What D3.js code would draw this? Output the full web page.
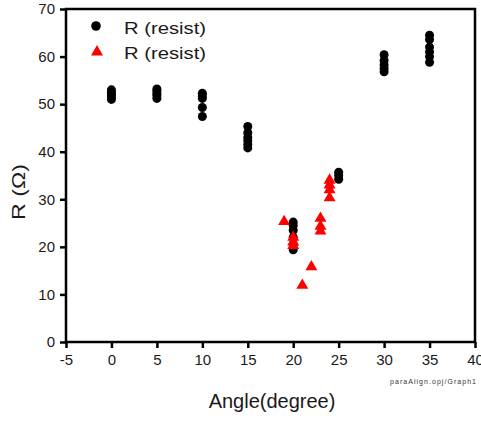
<!DOCTYPE html>
<html>
<head>
<meta charset="utf-8">
<script src="https://cdn.jsdelivr.net/npm/d3@7"></script>
<style>
  body { margin: 0; background: #fff; }
  svg text { font-family: "Liberation Sans", Arial, sans-serif; }
</style>
</head>
<body>
<svg id="chart" width="481" height="421"></svg>
<script>
// black circles: angle and measured R
const blackAngles = [0, 0, 0, 0, 0,
  5, 5, 5, 5, 5,
  10, 10, 10, 10, 10,
  15, 15, 15, 15, 15, 15,
  20, 20, 20, 20, 20, 20,
  25, 25, 25,
  30, 30, 30, 30, 30,
  35, 35, 35, 35, 35, 35];
const blackR = [51, 51.5, 52, 52.5, 53,
  51.2, 51.8, 52.3, 52.8, 53.2,
  47.4, 49.3, 51.2, 51.7, 52.3,
  40.8, 41.5, 42.3, 43, 44, 45.3,
  19.4, 20.5, 22, 23.5, 24.5, 25.2,
  34.2, 35, 35.7,
  56.8, 57.5, 58.3, 59.2, 60.4,
  58.8, 60, 61, 62, 63.6, 64.5];

// red triangles
const redAngles = [19, 20, 20, 20, 21, 22, 23, 23, 23, 24, 24, 24, 24];
const redR = [25.3, 20.3, 21, 22, 11.9, 15.8, 23.3, 24.3, 26, 30.3, 32, 33, 34];

const xTicks = [-5, 0, 5, 10, 15, 20, 25, 30, 35, 40];
const yTicks = [0, 10, 20, 30, 40, 50, 60, 70];
const legendLabels = ["R (resist)", "R (resist)"];

const svg = d3.select("#chart");
const pLeft = 66, pRight = 475, pTop = 9, pBottom = 342;
const textCol = "#1a1a1a";

const x = d3.scaleLinear().domain([-5, 40]).range([pLeft, pRight]);
const y = d3.scaleLinear().domain([0, 70]).range([pBottom, pTop]);

// frame
svg.append("rect")
  .attr("x", pLeft).attr("y", pTop)
  .attr("width", pRight - pLeft).attr("height", pBottom - pTop)
  .attr("fill", "none").attr("stroke", "#000").attr("stroke-width", 2.5);

// axes (plain hyphen for minus, like the original)
const fmt = d => String(d);
const xAxis = svg.append("g")
  .attr("transform", `translate(0,${pBottom})`)
  .call(d3.axisBottom(x).tickValues(xTicks).tickFormat(fmt).tickSize(6).tickPadding(6));
const yAxis = svg.append("g")
  .attr("transform", `translate(${pLeft},0)`)
  .call(d3.axisLeft(y).tickValues(yTicks).tickFormat(fmt).tickSize(6).tickPadding(5));

[xAxis, yAxis].forEach(g => {
  g.select(".domain").remove();
  g.selectAll(".tick line").attr("stroke", "#000").attr("stroke-width", 2.5);
  g.selectAll(".tick text").attr("fill", textCol).attr("font-size", 15)
    .style("font-family", "'Liberation Sans', Arial, sans-serif");
});

// black circles
svg.append("g").selectAll("circle")
  .data(blackAngles.map((a, i) => [a, blackR[i]]))
  .join("circle")
  .attr("cx", d => x(d[0]))
  .attr("cy", d => y(d[1]))
  .attr("r", 4.5)
  .attr("fill", "#000");

// red triangles
const tri = d3.symbol().type(d3.symbolTriangle).size(62);
svg.append("g").selectAll("path")
  .data(redAngles.map((a, i) => [a, redR[i]]))
  .join("path")
  .attr("d", tri)
  .attr("transform", d => `translate(${x(d[0])},${y(d[1])})`)
  .attr("fill", "#ff0000");

// legend
svg.append("circle").attr("cx", 96).attr("cy", 26).attr("r", 4.8).attr("fill", "#000");
svg.append("path").attr("d", tri).attr("transform", "translate(97,52)").attr("fill", "#ff0000");
svg.selectAll(".leg").data(legendLabels).join("text")
  .attr("class", "leg")
  .attr("x", 124)
  .attr("y", (d, i) => 34 + i * 25)
  .attr("font-size", 17)
  .attr("textLength", 82)
  .attr("lengthAdjust", "spacingAndGlyphs")
  .attr("fill", textCol)
  .text(d => d);

// axis titles
svg.append("text")
  .attr("transform", "translate(25,192) rotate(-90)")
  .attr("text-anchor", "middle")
  .attr("font-size", 18)
  .attr("textLength", 56)
  .attr("lengthAdjust", "spacingAndGlyphs")
  .attr("fill", textCol)
  .text("R (Ω)");

svg.append("text")
  .attr("x", 272).attr("y", 408)
  .attr("text-anchor", "middle")
  .attr("font-size", 20)
  .attr("fill", textCol)
  .text("Angle(degree)");

svg.append("text")
  .attr("x", 390).attr("y", 384)
  .attr("font-size", 7)
  .attr("textLength", 86)
  .attr("lengthAdjust", "spacing")
  .attr("fill", "#333")
  .text("paraAlign.opj/Graph1");
</script>
</body>
</html>
